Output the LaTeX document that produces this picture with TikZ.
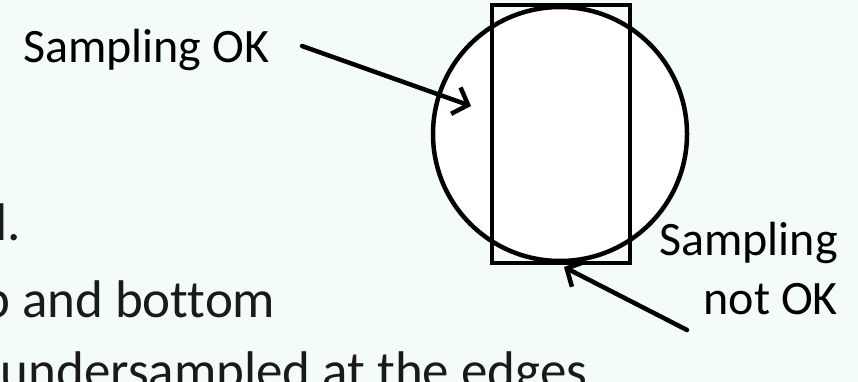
\documentclass[tikz,border=0pt]{standalone}
\usepackage{fontspec}
\setmainfont[Ligatures=CommonOff]{Carlito}
\usetikzlibrary{arrows.meta}
\definecolor{bg}{RGB}{243,252,249}
\definecolor{ink}{RGB}{26,26,26}
\tikzset{
  body/.style={inner sep=0pt, text=ink, font=\fontsize{53}{76}\selectfont},
  lbl/.style={inner sep=0pt, text=black, font=\fontsize{48}{59}\selectfont},
  shapeline/.style={line width=4.5pt, draw=black},
  pointer/.style={line width=4.5pt, draw=black, line cap=round,
    -{Straight Barb[length=13pt, width=28pt, line width=4.5pt]}},
}
\begin{document}
\begin{tikzpicture}[x=1pt, y=-1pt]
\useasboundingbox (0,0) rectangle (858,382);
\fill[bg] (0,0) rectangle (858,382);
% left text fragments
\node[body, anchor=base west] (t1) at (-5,240) {l.};
\node[body, anchor=base west] (t2) at (-18,317) {p and bottom};
\node[body, anchor=base west] (t3) at (0.5,388) {undersampled at the edges};
% circle and rectangle
\node[shapeline, fill=white, circle, minimum size=254pt, inner sep=0pt] (circ) at (560,134) {};
\node[shapeline, rectangle, minimum width=138pt, minimum height=258pt, inner sep=0pt] (rect) at (561,134) {};
% labels
\node[lbl, anchor=base west] (ok) at (23,63) {Sampling OK};
\node[lbl, anchor=base east, align=right] (nok) at (838,314) {Sampling\\not OK};
% arrows
\coordinate (a1s) at (302,46);
\coordinate (a1e) at (471,106);
\coordinate (a2s) at (687,330);
\coordinate (a2e) at (564,267);
\draw[pointer] (a1s) -- (a1e);
\draw[pointer] (a2s) -- (a2e);
\end{tikzpicture}
\end{document}
